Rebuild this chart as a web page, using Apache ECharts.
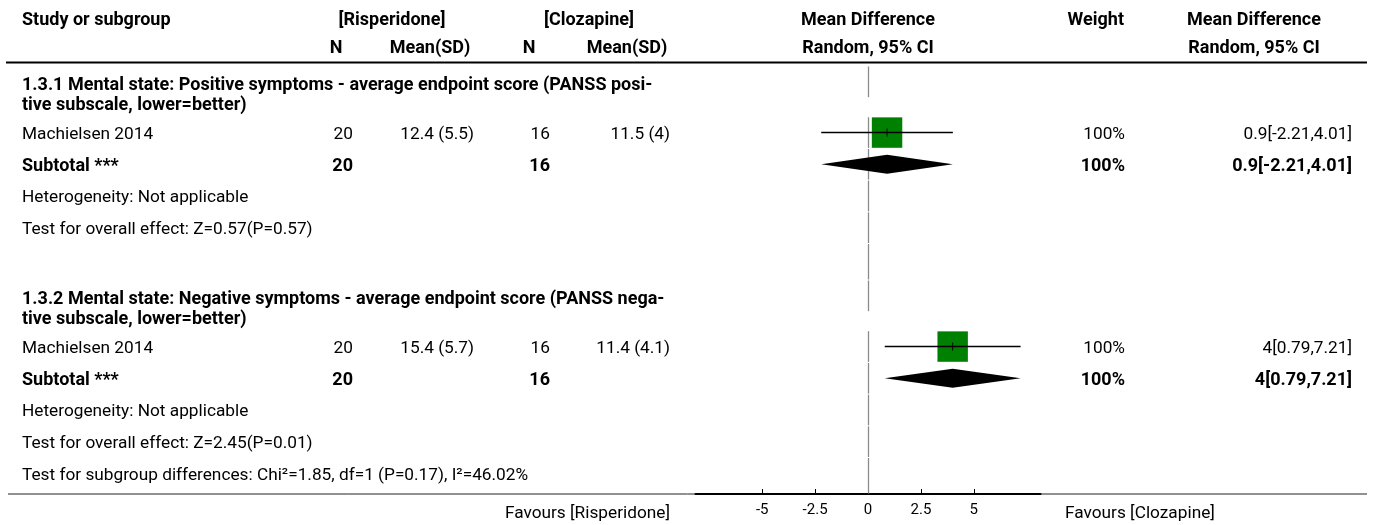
<!DOCTYPE html>
<html>
<head>
<meta charset="utf-8">
<script src="https://cdn.jsdelivr.net/npm/echarts@6/dist/echarts.min.js"></script>
<style>
  html, body { margin: 0; padding: 0; background: #fff; }
  #chart { width: 1375px; height: 525px; }
</style>
</head>
<body>
<div id="chart"></div>
<script>
// ---- data ----
const groupTitles = [
  ["1.3.1 Mental state: Positive symptoms - average endpoint score (PANSS posi-", "tive subscale, lower=better)"],
  ["1.3.2 Mental state: Negative symptoms - average endpoint score (PANSS nega-", "tive subscale, lower=better)"]
];
const studyNames = ["Machielsen 2014", "Machielsen 2014"];
const expN = [20, 20];
const expMean = [12.4, 15.4];
const expSD = [5.5, 5.7];
const ctlN = [16, 16];
const ctlMean = [11.5, 11.4];
const ctlSD = [4, 4.1];
const studyMD = [0.9, 4];
const studyLow = [-2.21, 0.79];
const studyHigh = [4.01, 7.21];
const studyWeight = [100, 100];
const subtotalMD = [0.9, 4];
const subtotalLow = [-2.21, 0.79];
const subtotalHigh = [4.01, 7.21];
const subtotalWeight = [100, 100];
const heterogeneity = ["Heterogeneity: Not applicable", "Heterogeneity: Not applicable"];
const overallEffect = ["Test for overall effect: Z=0.57(P=0.57)", "Test for overall effect: Z=2.45(P=0.01)"];
const subgroupTest = "Test for subgroup differences: Chi\u00b2=1.85, df=1 (P=0.17), I\u00b2=46.02%";
const tickValues = [-5, -2.5, 0, 2.5, 5];
const favoursLeft = "Favours [Risperidone]";
const favoursRight = "Favours [Clozapine]";
const expLabel = "[Risperidone]";
const ctlLabel = "[Clozapine]";

// ---- fonts: size the table text so the long lines fill their column ----
const FONT = "Roboto";
const measureCtx = document.createElement("canvas").getContext("2d");
function fitSize(text, weight, targetWidth) {
  measureCtx.font = weight + " 100px " + FONT;
  const w = measureCtx.measureText(text).width;
  const s = 100 * targetWidth / w;
  return Math.max(13, Math.min(18, s));
}
const FS_REG = fitSize(subgroupTest, "normal", 506);
const FS_BOLD = fitSize(groupTitles[0][0], "bold", 638);
const reg = FS_REG.toFixed(2) + "px " + FONT;
const bold = "bold " + FS_BOLD.toFixed(2) + "px " + FONT;
const TEXT_DY = 2;

// ---- layout ----
const GRID_TOP = 66, GRID_BOTTOM_Y = 494;
const X_MIN = -8.15, X_MAX = 8.15;

// rows in row units (one unit = one table line)
const rows = [];
let u = 0;
groupTitles.forEach((t, g) => {
  if (g > 0) { rows.push({ type: "blank", top: u, h: 1.15 }); u += 1.15; }
  rows.push({ type: "title", top: u, h: 1.6, g }); u += 1.6;
  rows.push({ type: "study", top: u, h: 1, g }); u += 1;
  rows.push({ type: "subtotal", top: u, h: 1, g }); u += 1;
  rows.push({ type: "het", top: u, h: 1, g }); u += 1;
  rows.push({ type: "effect", top: u, h: 1, g }); u += 1;
});
rows.push({ type: "subgroup", top: u, h: 1 }); u += 1;
const Y_MAX = u + 0.15;
const unitPx = (GRID_BOTTOM_Y - GRID_TOP) / Y_MAX;
const py = v => GRID_TOP + v * unitPx;

// ---- table text ----
const graphics = [];
function txt(text, x, y, align, font) {
  graphics.push({
    type: "text", x, y: y + TEXT_DY, silent: true,
    style: { text, fill: "#000", font: font || reg,
      textAlign: align || "left", align: align || "left",
      textVerticalAlign: "middle", verticalAlign: "middle" }
  });
}
// header
txt("Study or subgroup", 22, 18, "left", bold);
txt(expLabel, 392, 18, "center", bold);
txt(ctlLabel, 589, 18, "center", bold);
txt("Mean Difference", 868, 18, "center", bold);
txt("Weight", 1124, 18, "right", bold);
txt("Mean Difference", 1254, 18, "center", bold);
txt("N", 336, 46, "center", bold);
txt("Mean(SD)", 430, 46, "center", bold);
txt("N", 529, 46, "center", bold);
txt("Mean(SD)", 627, 46, "center", bold);
txt("Random, 95% CI", 868, 46, "center", bold);
txt("Random, 95% CI", 1254, 46, "center", bold);

const ci = (m, l, h) => m + "[" + l + "," + h + "]";
rows.forEach(r => {
  const mid = py(r.top + r.h / 2);
  const g = r.g;
  if (r.type === "title") {
    txt(groupTitles[g][0], 22, py(r.top) + 17, "left", bold);
    txt(groupTitles[g][1], 22, py(r.top) + 37, "left", bold);
  } else if (r.type === "study") {
    txt(studyNames[g], 22, mid, "left");
    txt(String(expN[g]), 353, mid, "right");
    txt(expMean[g] + " (" + expSD[g] + ")", 474, mid, "right");
    txt(String(ctlN[g]), 550, mid, "right");
    txt(ctlMean[g] + " (" + ctlSD[g] + ")", 670, mid, "right");
    txt(studyWeight[g] + "%", 1125, mid, "right");
    txt(ci(studyMD[g], studyLow[g], studyHigh[g]), 1352, mid, "right");
  } else if (r.type === "subtotal") {
    txt("Subtotal ***", 22, mid, "left", bold);
    txt(String(expN[g]), 353, mid, "right", bold);
    txt(String(ctlN[g]), 550, mid, "right", bold);
    txt(subtotalWeight[g] + "%", 1125, mid, "right", bold);
    txt(ci(subtotalMD[g], subtotalLow[g], subtotalHigh[g]), 1352, mid, "right", bold);
  } else if (r.type === "het") {
    txt(heterogeneity[g], 22, mid, "left");
  } else if (r.type === "effect") {
    txt(overallEffect[g], 22, mid, "left");
  } else if (r.type === "subgroup") {
    txt(subgroupTest, 22, mid, "left");
  }
});
txt(favoursLeft, 670, 512, "right");
txt(favoursRight, 1065, 512, "left");

// rules
graphics.push({ type: "line", silent: true, shape: { x1: 6, y1: 62.5, x2: 1367, y2: 62.5 },
  style: { stroke: "#000", lineWidth: 2 } });
graphics.push({ type: "line", silent: true, shape: { x1: 8, y1: GRID_BOTTOM_Y, x2: 1367, y2: GRID_BOTTOM_Y },
  style: { stroke: "#222", lineWidth: 1 } });

// ---- series data ----
const zeroSegments = rows.map((r, i) => {
  const top = r.top;
  let bottom = r.type === "title" ? r.top + 1 : r.top + r.h;
  if (i === rows.length - 1) bottom = Y_MAX;
  return [0, top, bottom];
});
const studyData = rows.filter(r => r.type === "study").map(r =>
  [studyMD[r.g], studyLow[r.g], studyHigh[r.g], r.top + r.h / 2, studyWeight[r.g]]);
const subtotalData = rows.filter(r => r.type === "subtotal").map(r =>
  [subtotalMD[r.g], subtotalLow[r.g], subtotalHigh[r.g], r.top + r.h / 2]);

const chart = echarts.init(document.getElementById("chart"), null, { renderer: "canvas" });
chart.setOption({
  animation: false,
  backgroundColor: "#fff",
  grid: { left: 695.5, right: 1375 - 1040.5, top: GRID_TOP, bottom: 525 - GRID_BOTTOM_Y, containLabel: false },
  xAxis: {
    type: "value", min: X_MIN, max: X_MAX,
    axisLine: { show: true, onZero: false, lineStyle: { color: "#000", width: 2 } },
    axisTick: { show: true, inside: true, length: 5, customValues: tickValues, lineStyle: { color: "#000", width: 1 } },
    axisLabel: { show: true, customValues: tickValues, margin: 9, fontSize: 15, fontFamily: FONT, color: "#000",
      formatter: v => String(v) },
    splitLine: { show: false }
  },
  yAxis: { type: "value", min: 0, max: Y_MAX, inverse: true, show: false },
  graphic: graphics,
  series: [
    {
      type: "custom", name: "zero", silent: true, z: 1,
      data: zeroSegments,
      renderItem: (params, api) => {
        const a = api.coord([api.value(0), api.value(1)]);
        const b = api.coord([api.value(0), api.value(2)]);
        const x = Math.round(a[0]) + 0.5;
        return { type: "line", shape: { x1: x, y1: a[1] + 0.5, x2: x, y2: b[1] - 0.5 },
          style: { stroke: "#8a8a8a", lineWidth: 1.3 } };
      }
    },
    {
      type: "custom", name: "studies", silent: true, z: 3,
      data: studyData,
      renderItem: (params, api) => {
        const c = api.coord([api.value(0), api.value(3)]);
        const lo = api.coord([api.value(1), api.value(3)]);
        const hi = api.coord([api.value(2), api.value(3)]);
        const s = unitPx * 0.96 * api.value(4) / 100;
        return { type: "group", children: [
          { type: "rect", shape: { x: c[0] - s / 2, y: c[1] - s / 2, width: s, height: s },
            style: { fill: "#008000" } },
          { type: "line", shape: { x1: lo[0], y1: c[1], x2: hi[0], y2: c[1] },
            style: { stroke: "#000", lineWidth: 1.5 } },
          { type: "line", shape: { x1: c[0], y1: c[1] - 4, x2: c[0], y2: c[1] + 4 },
            style: { stroke: "#000", lineWidth: 1 } }
        ] };
      }
    },
    {
      type: "custom", name: "subtotals", silent: true, z: 3,
      data: subtotalData,
      renderItem: (params, api) => {
        const c = api.coord([api.value(0), api.value(3)]);
        const lo = api.coord([api.value(1), api.value(3)]);
        const hi = api.coord([api.value(2), api.value(3)]);
        const hh = 9.5;
        return { type: "polygon",
          shape: { points: [[lo[0], c[1]], [c[0], c[1] - hh], [hi[0], c[1]], [c[0], c[1] + hh]] },
          style: { fill: "#000" } };
      }
    }
  ]
});
</script>
</body>
</html>
